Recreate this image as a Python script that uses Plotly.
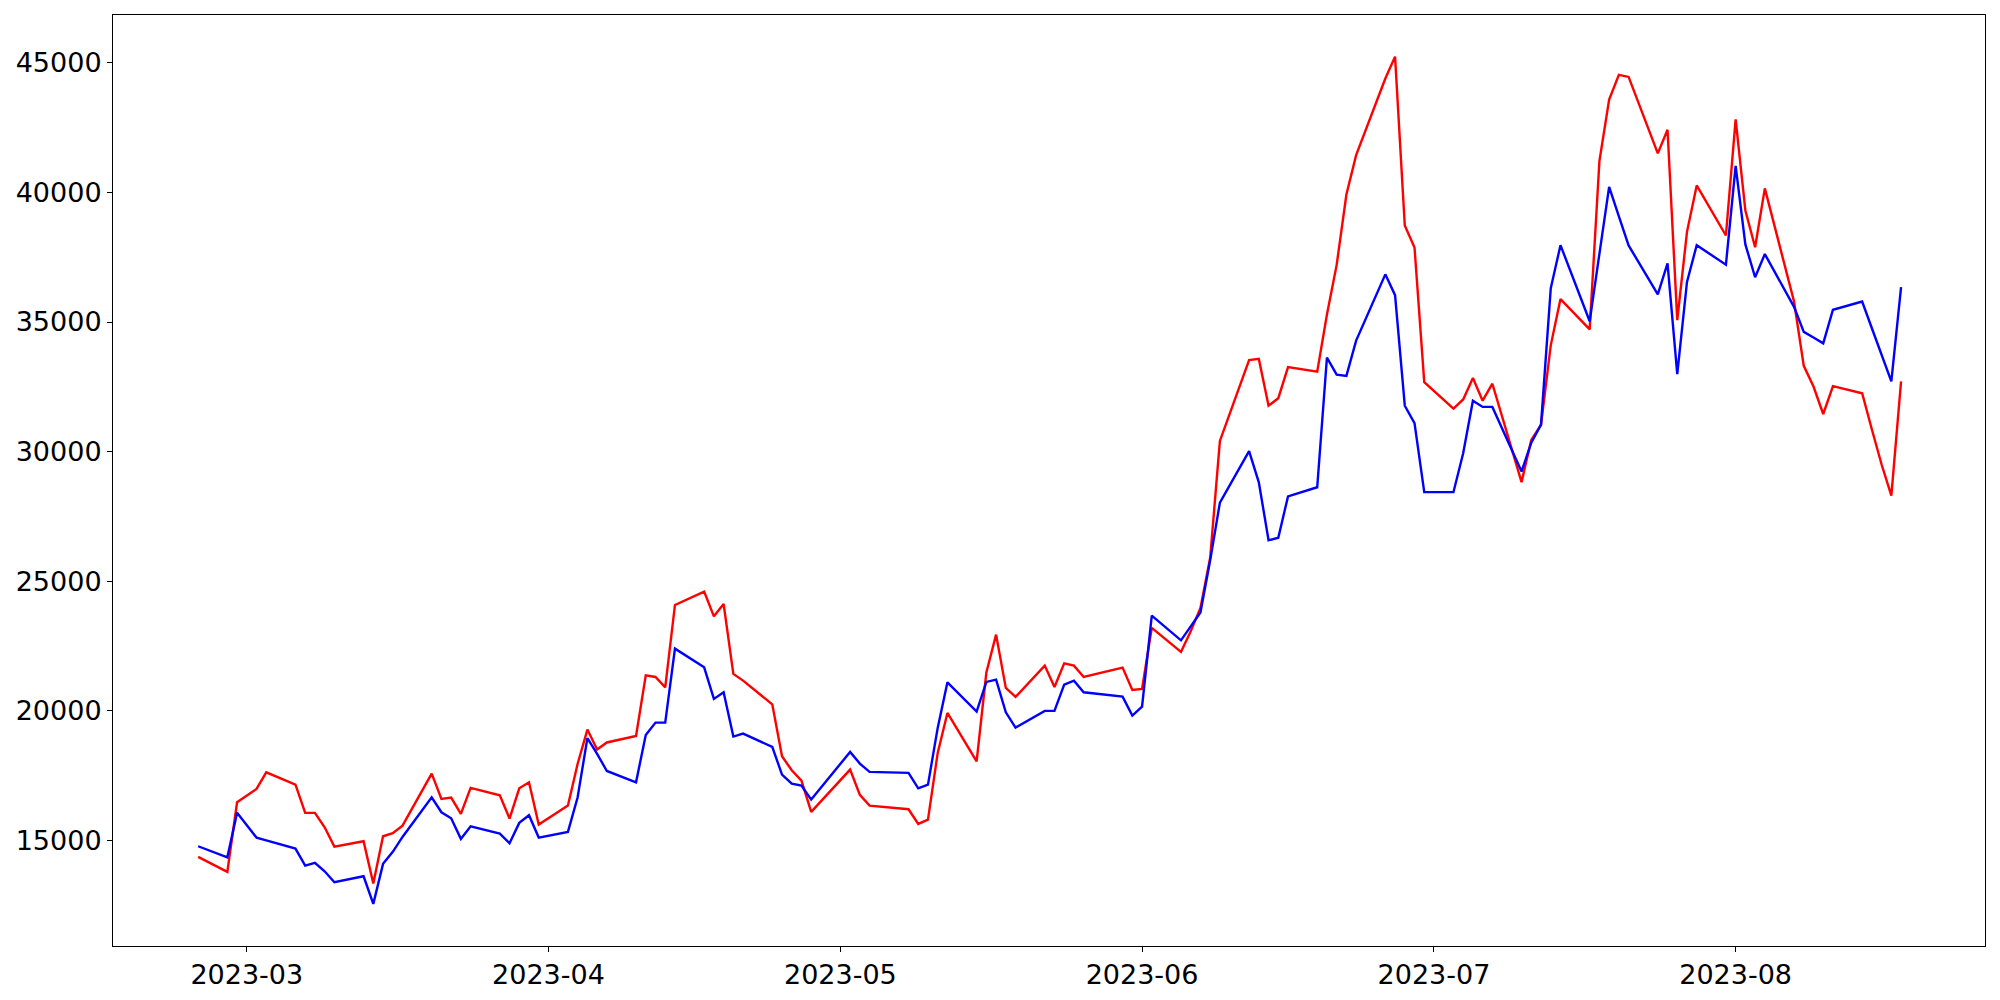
import plotly.graph_objects as go

dates = [
    "2023-02-24", "2023-02-27", "2023-02-28", "2023-03-02", "2023-03-03",
    "2023-03-06", "2023-03-07", "2023-03-08", "2023-03-09", "2023-03-10",
    "2023-03-13", "2023-03-14", "2023-03-15", "2023-03-16", "2023-03-17",
    "2023-03-20", "2023-03-21", "2023-03-22", "2023-03-23", "2023-03-24",
    "2023-03-27", "2023-03-28", "2023-03-29", "2023-03-30", "2023-03-31",
    "2023-04-03", "2023-04-04", "2023-04-05", "2023-04-06", "2023-04-07",
    "2023-04-10", "2023-04-11", "2023-04-12", "2023-04-13", "2023-04-14",
    "2023-04-17", "2023-04-18", "2023-04-19", "2023-04-20", "2023-04-21",
    "2023-04-24", "2023-04-25", "2023-04-26", "2023-04-27", "2023-04-28",
    "2023-05-02", "2023-05-03", "2023-05-04",
    "2023-05-08", "2023-05-09", "2023-05-10", "2023-05-11", "2023-05-12",
    "2023-05-15", "2023-05-16", "2023-05-17", "2023-05-18", "2023-05-19",
    "2023-05-22", "2023-05-23", "2023-05-24", "2023-05-25", "2023-05-26",
    "2023-05-30", "2023-05-31", "2023-06-01", "2023-06-02",
    "2023-06-05", "2023-06-06", "2023-06-07", "2023-06-08", "2023-06-09",
    "2023-06-12", "2023-06-13", "2023-06-14", "2023-06-15", "2023-06-16",
    "2023-06-19", "2023-06-20", "2023-06-21", "2023-06-22", "2023-06-23",
    "2023-06-26", "2023-06-27", "2023-06-28", "2023-06-29", "2023-06-30",
    "2023-07-03", "2023-07-04", "2023-07-05", "2023-07-06", "2023-07-07",
    "2023-07-10", "2023-07-11", "2023-07-12", "2023-07-13", "2023-07-14",
    "2023-07-17", "2023-07-18", "2023-07-19", "2023-07-20", "2023-07-21",
    "2023-07-24", "2023-07-25", "2023-07-26", "2023-07-27", "2023-07-28",
    "2023-07-31", "2023-08-01", "2023-08-02", "2023-08-03", "2023-08-04",
    "2023-08-07", "2023-08-08", "2023-08-09", "2023-08-10", "2023-08-11",
    "2023-08-14", "2023-08-15", "2023-08-16", "2023-08-17", "2023-08-18",
]

red_values = [
    14356, 13777, 16462, 16979, 17620,
    17145, 16054, 16054, 15498, 14753,
    14958, 13326, 15151, 15267, 15563,
    17570, 16594, 16645, 16015, 17018,
    16733, 15834, 17003, 17234, 15602,
    16335, 17950, 19268, 18500, 18770,
    19025, 21363, 21300, 20900, 24079,
    24592, 23639, 24117, 21417, 21158,
    20244, 18237, 17697, 17300, 16092,
    17724, 16748, 16335,
    16193, 15629, 15795, 18369, 19912,
    18040, 21470, 22933, 20877, 20529,
    21737, 20915, 21826, 21737, 21301,
    21660, 20799, 20838, 23192,
    22266, 23061, 23963, 25900, 30411,
    33529, 33575, 31769, 32058, 33259,
    33081, 35288, 37206, 39922, 41442,
    44398, 45243, 38722, 37877, 32680,
    31657, 32009, 32842, 31962, 32618,
    28820, 30450, 31030, 34100, 35886,
    34715, 41210, 43590, 44541, 44460,
    41508, 42419, 35072, 38479, 40270,
    38340, 42820, 39305, 37885, 40158,
    35790, 33309, 32510, 31449, 32525,
    32250, 30850, 29500, 28300, 32710,
]

blue_values = [
    14765, 14340, 16054, 15100, 14995,
    14676, 14020, 14124, 13800, 13376,
    13607, 12542, 14086, 14548, 15125,
    16656, 16077, 15845, 15050, 15536,
    15255, 14881, 15668, 15961, 15100,
    15320, 16656, 18940, 18330, 17670,
    17234, 19063, 19538, 19538, 22393,
    21671, 20452, 20709, 18998, 19113,
    18600, 17531, 17184, 17107, 16567,
    18407, 17956, 17635,
    17596, 17003, 17145, 19333, 21093,
    19962, 21107, 21197, 19935, 19345,
    19989, 19989, 21004, 21158, 20707,
    20541, 19808, 20155, 23666,
    22713, 23254, 23790, 25800, 28030,
    30014, 28814, 26576, 26672, 28270,
    28621, 33625, 32969, 32923, 34281,
    36839, 36037, 31769, 31098, 28432,
    28432, 29933, 31962, 31723, 31723,
    29230, 30340, 31040, 36300, 37966,
    35030, 37630, 40215, 39080, 37955,
    36068, 37264, 32992, 36550, 37966,
    37210, 41026, 37996, 36727, 37622,
    35585, 34621, 34400, 34177, 35473,
    35790, 34760, 33730, 32710, 36342,
]

tick_dates = ["2023-03-01", "2023-04-01", "2023-05-01", "2023-06-01", "2023-07-01", "2023-08-01"]
tick_labels = ["2023-03", "2023-04", "2023-05", "2023-06", "2023-07", "2023-08"]
y_ticks = [15000, 20000, 25000, 30000, 35000, 40000, 45000]

fig = go.Figure()
fig.add_trace(go.Scatter(x=dates, y=red_values, mode="lines",
                         line=dict(color="#ff0000", width=2.4), showlegend=False))
fig.add_trace(go.Scatter(x=dates, y=blue_values, mode="lines",
                         line=dict(color="#0000ff", width=2.4), showlegend=False))

axis_common = dict(showline=True, linecolor="black", linewidth=1, mirror=True,
                   showgrid=False, zeroline=False, ticks="outside", ticklen=5,
                   tickwidth=1, tickcolor="black", automargin=False,
                   tickfont=dict(family="DejaVu Sans", size=27, color="black"))

# page body has an 8px default margin; size the figure so it fits 2000x1000
fig.update_layout(
    width=1992, height=992,
    margin=dict(l=105, r=15, t=7, b=54),
    paper_bgcolor="white", plot_bgcolor="white",
    xaxis=dict(type="date", range=["2023-02-15 06:00", "2023-08-26 15:00"],
               tickvals=tick_dates, ticktext=tick_labels, **axis_common),
    yaxis=dict(range=[10915, 46850], tickvals=y_ticks,
               ticktext=[str(v) for v in y_ticks], **axis_common),
)

fig.write_html("out.html")
